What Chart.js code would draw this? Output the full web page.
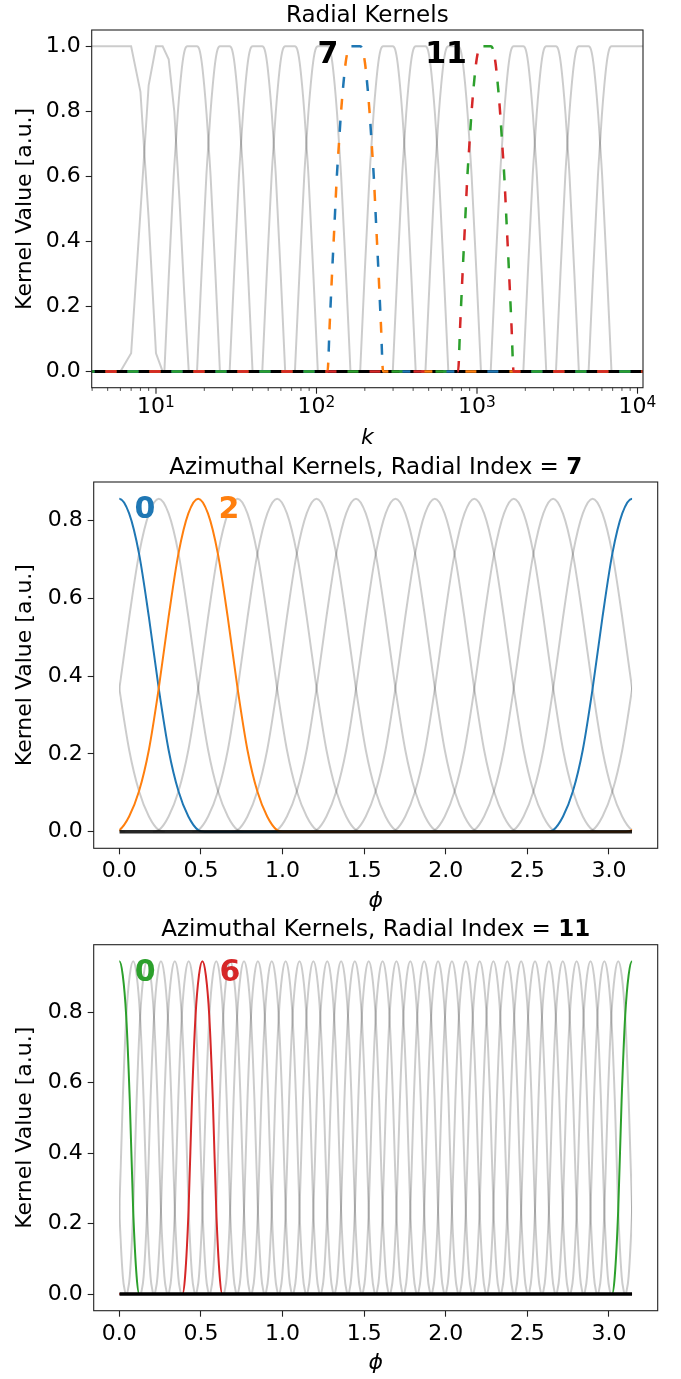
<!DOCTYPE html>
<html><head>
<meta charset="utf-8">
<title>Kernels</title>
<script src="https://cdn.jsdelivr.net/npm/chart.js@4"></script>
<style>
body { margin: 0; background: #fff; }
.panel { position: absolute; left: 0; width: 681px; }
</style>
</head>
<body>
<div class="panel" style="top:0px;height:460px"><canvas id="radial"></canvas></div>
<div class="panel" style="top:440px;height:480px"><canvas id="az7"></canvas></div>
<div class="panel" style="top:900px;height:479px"><canvas id="az11"></canvas></div>
<script>
// ---- radial kernels (k on a log axis) ----
// centres of kernels 0..15, in k
const radialCenters = [6.59, 10.52, 16.80, 26.83, 42.84, 68.43, 109.3, 174.5, 278.7, 445.0, 710.8, 1135, 1813, 2895, 4623, 7384];
// one side of an interior kernel: offset from centre in decades -> value
const radialOffsets = [0, 0.030, 0.045, 0.060, 0.075, 0.090, 0.102, 0.115, 0.130, 0.145, 0.160, 0.173];
const radialProfile = [1.00, 1.00, 0.99, 0.95, 0.88, 0.79, 0.70, 0.60, 0.45, 0.30, 0.14, 0.00];
// the two lowest kernels are only sampled at integer k
const kLow = [3, 4, 5, 6, 7, 8, 9, 10, 11, 12, 13, 14, 15, 16, 17];
const radial0Low = [1, 1, 1, 1, 1, 0.86, 0.47, 0.056, 0, 0, 0, 0, 0, 0, 0];
const radial1Low = [0, 0, 0, 0, 0.056, 0.49, 0.88, 1, 1, 0.96, 0.80, 0.53, 0.24, 0, 0];
const radialHighlight = [7, 11];

// ---- azimuthal kernels, radial index 7 ----
const az7Centers = [0, 0.242, 0.483, 0.725, 0.967, 1.208, 1.450, 1.692, 1.933, 2.175, 2.417, 2.658, 2.900];
const az7Offsets = [0, 0.060, 0.121, 0.181, 0.242, 0.302, 0.363, 0.423, 0.483, 0.520];
const az7Profile = [0.856, 0.818, 0.714, 0.552, 0.367, 0.210, 0.103, 0.039, 0.004, 0.000];
const az7Highlight = [0, 2];

// ---- azimuthal kernels, radial index 11 ----
const az11Centers = [0, 0.085, 0.170, 0.255, 0.340, 0.425, 0.509, 0.594, 0.679, 0.764, 0.849, 0.934,
  1.019, 1.104, 1.189, 1.274, 1.359, 1.443, 1.528, 1.613, 1.698, 1.783, 1.868, 1.953, 2.038, 2.123,
  2.208, 2.292, 2.377, 2.462, 2.547, 2.632, 2.717, 2.802, 2.887, 2.972, 3.057];
const az11Offsets = [0, 0.021, 0.042, 0.064, 0.085, 0.106, 0.122];
const az11Profile = [0.944, 0.905, 0.790, 0.550, 0.236, 0.050, 0.000];
const az11Highlight = [0, 6];

const PI = Math.PI;
const FONT = "'DejaVu Sans', sans-serif";
const GRAY = 'rgba(0,0,0,0.2)';
const BLUE = '#1f77b4', ORANGE = '#ff7f0e', GREEN = '#2ca02c', RED = '#d62728';

function line(points, color, width, extra) {
  return Object.assign({
    data: points, showLine: true, borderColor: color, borderWidth: width,
    pointRadius: 0, fill: false, clip: 0, tension: 0, spanGaps: false
  }, extra || {});
}

// bump around centre c; xf maps (centre, offset) to an x value
function bump(c, offs, vals, xf) {
  const pts = [];
  for (let i = offs.length - 1; i > 0; i--) pts.push({x: xf(c, -offs[i]), y: vals[i]});
  for (let i = 0; i < offs.length; i++) pts.push({x: xf(c, offs[i]), y: vals[i]});
  return pts;
}
const logX = (c, o) => Math.pow(10, Math.log10(c) + o);
const linX = (c, o) => c + o;

// ---------- radial datasets ----------
function radialDatasets() {
  const sets = [];
  const smooth = {cubicInterpolationMode: 'monotone', order: 3};
  radialCenters.forEach((c, n) => {
    if (radialHighlight.includes(n)) return;
    let pts;
    if (n === 0) pts = kLow.map((k, i) => ({x: k, y: radial0Low[i]}));
    else if (n === 1) pts = kLow.map((k, i) => ({x: k, y: radial1Low[i]}));
    else if (n === radialCenters.length - 1) {
      pts = bump(c, radialOffsets, radialProfile, logX).filter(p => p.x <= c);
      pts.push({x: 20000, y: 1});
    } else pts = bump(c, radialOffsets, radialProfile, logX);
    sets.push(line(pts, GRAY, 2, n < 2 ? {order: 3} : smooth));
  });
  sets.push(line([{x: 1, y: 0}, {x: 20000, y: 0}], '#000', 3, {order: 2}));
  const dashColors = [[BLUE, ORANGE], [GREEN, RED]];
  radialHighlight.forEach((n, h) => {
    const pts = [{x: 1, y: 0}].concat(bump(radialCenters[n], radialOffsets, radialProfile, logX), [{x: 20000, y: 0}]);
    dashColors[h].forEach((col, i) => {
      sets.push(line(pts, col, 2.5, {
        cubicInterpolationMode: 'monotone', borderDash: [11, 33], borderDashOffset: -22 * i,
        order: 1.4 - h * 0.2 - i * 0.1
      }));
    });
  });
  return sets;
}

// ---------- azimuthal datasets (period pi) ----------
function azDatasets(centers, offs, vals, highlight, colors, baseAlpha) {
  const sets = [];
  const reach = offs[offs.length - 1];
  centers.forEach((c, j) => {
    const copies = [c - PI, c, c + PI].filter(cc => cc + reach > -0.2 && cc - reach < PI + 0.2);
    const hi = highlight.indexOf(j);
    let pts = [];
    if (hi < 0) {
      copies.forEach((cc, i) => {
        if (i > 0) pts.push({x: cc - reach - 0.001, y: null});
        pts = pts.concat(bump(cc, offs, vals, linX));
      });
      sets.push(line(pts, GRAY, 2, {cubicInterpolationMode: 'monotone', order: 3}));
    } else {
      pts.push({x: -0.3, y: 0});
      copies.forEach(cc => { pts = pts.concat(bump(cc, offs, vals, linX)); });
      pts.push({x: PI + 0.3, y: 0});
      pts.sort((a, b) => a.x - b.x);
      sets.push(line(pts, colors[hi], 2, {cubicInterpolationMode: 'monotone', order: 2.2 - hi * 0.1}));
    }
  });
  sets.push(line([{x: 0, y: 0}, {x: PI, y: 0}], 'rgba(0,0,0,' + baseAlpha + ')', 3.5, {order: 1}));
  return sets;
}

// frame, titles, axis labels, annotations and log ticks
const kernelDecor = {
  id: 'kernelDecor',
  beforeDatasetsDraw(chart, args, o) {
    // the angle curves only cover 0..pi
    if (!o.clipX) return;
    const {ctx, chartArea: a} = chart;
    const xs = chart.scales.x;
    const x0 = xs.getPixelForValue(o.clipX[0]), x1 = xs.getPixelForValue(o.clipX[1]);
    ctx.save();
    ctx.beginPath();
    ctx.rect(x0, a.top, x1 - x0, a.bottom - a.top);
    ctx.clip();
  },
  afterDatasetsDraw(chart, args, o) {
    if (o.clipX) chart.ctx.restore();
  },
  afterDraw(chart, args, o) {
    const {ctx, chartArea: a} = chart;
    const xs = chart.scales.x, ys = chart.scales.y;
    ctx.save();
    ctx.fillStyle = '#000';
    // title, normal and bold pieces centred over the axes
    const parts = o.title;
    const fonts = parts.map(p => (p.bold ? 'bold ' : '') + '23px ' + FONT);
    const widths = parts.map((p, i) => { ctx.font = fonts[i]; return ctx.measureText(p.text).width; });
    let x = (a.left + a.right) / 2 - widths.reduce((s, w) => s + w, 0) / 2;
    ctx.textAlign = 'left';
    ctx.textBaseline = 'alphabetic';
    parts.forEach((p, i) => { ctx.font = fonts[i]; ctx.fillText(p.text, x, o.titleY); x += widths[i]; });
    // x axis label
    ctx.font = 'italic 22px ' + FONT;
    ctx.textAlign = 'center';
    ctx.fillText(o.xLabel, (a.left + a.right) / 2, o.xLabelY);
    // y axis label
    ctx.save();
    ctx.translate(25, (a.top + a.bottom) / 2);
    ctx.rotate(-PI / 2);
    ctx.font = '22px ' + FONT;
    ctx.textBaseline = 'middle';
    ctx.fillText('Kernel Value [a.u.]', 0, 0);
    ctx.restore();
    // log axis ticks with 10^n labels
    if (o.logTicks) {
      ctx.strokeStyle = '#222';
      for (let e = 0; e <= 4; e++) {
        for (let m = 1; m <= 9; m++) {
          const v = m * Math.pow(10, e);
          if (v < xs.min || v > xs.max) continue;
          const px = xs.getPixelForValue(v);
          ctx.lineWidth = m === 1 ? 1.1 : 0.8;
          ctx.beginPath();
          ctx.moveTo(px, a.bottom);
          ctx.lineTo(px, a.bottom + (m === 1 ? 6 : 3.2));
          ctx.stroke();
          if (m === 1) {
            ctx.textAlign = 'left';
            ctx.font = '22px ' + FONT;
            const w1 = ctx.measureText('10').width;
            ctx.font = '15.4px ' + FONT;
            const w2 = ctx.measureText(String(e)).width;
            const x0 = px - (w1 + w2) / 2;
            ctx.font = '22px ' + FONT;
            ctx.fillText('10', x0, a.bottom + 25.6);
            ctx.font = '15.4px ' + FONT;
            ctx.fillText(String(e), x0 + w1, a.bottom + 18.8);
          }
        }
      }
    }
    // frame
    ctx.strokeStyle = '#222';
    ctx.lineWidth = 1.1;
    ctx.strokeRect(a.left, a.top, a.right - a.left, a.bottom - a.top);
    // kernel index annotations
    ctx.textAlign = 'center';
    ctx.textBaseline = 'alphabetic';
    ctx.font = 'bold 30px ' + FONT;
    o.marks.forEach(m => {
      ctx.fillStyle = m.color;
      ctx.fillText(m.text, xs.getPixelForValue(m.x), ys.getPixelForValue(m.y) + 10.9);
    });
    ctx.restore();
  }
};

function linearAxis(min, max, step, fixed) {
  return {
    type: 'linear', min: min, max: max,
    ticks: {
      stepSize: step, includeBounds: false, color: '#000', padding: fixed.pad,
      font: {family: FONT, size: 22}, callback: v => v.toFixed(1), maxRotation: 0, autoSkip: false
    },
    grid: {display: true, drawOnChartArea: false, drawTicks: true, tickLength: 6, tickColor: '#222', tickWidth: 1.1},
    border: {display: false},
    afterFit: s => {
      if (fixed.width) s.width = fixed.width;
      if (fixed.height) s.height = fixed.height;
      s.paddingLeft = s.paddingRight = s.paddingTop = s.paddingBottom = 0;
    }
  };
}

function makeChart(id, geom, datasets, xAxis, yAxis, decor) {
  return new Chart(document.getElementById(id), {
    type: 'scatter',
    data: {datasets: datasets},
    options: {
      responsive: true, maintainAspectRatio: false, animation: false, devicePixelRatio: 1,
      events: [],
      layout: {padding: {left: 0, top: geom.top, right: 681 - geom.right, bottom: 0}},
      scales: {x: xAxis, y: yAxis},
      plugins: {legend: {display: false}, tooltip: {enabled: false}, kernelDecor: decor}
    },
    plugins: [kernelDecor]
  });
}

// panel 1: radial kernels
makeChart('radial', {top: 30, right: 643},
  radialDatasets(),
  {
    type: 'logarithmic', min: 3.976, max: 10820,
    ticks: {display: false}, grid: {display: false}, border: {display: false},
    afterFit: s => { s.height = 460 - 387.7; s.paddingLeft = s.paddingRight = 0; }
  },
  linearAxis(-0.05, 1.05, 0.2, {width: 91.7, pad: 5}),
  {
    title: [{text: 'Radial Kernels'}], titleY: 21.7, xLabel: 'k', xLabelY: 444, logTicks: true,
    marks: [{text: '7', x: 117.9, y: 0.981, color: '#000'}, {text: '11', x: 641, y: 0.981, color: '#000'}]
  });

// panel 2: azimuthal kernels at radial index 7
makeChart('az7', {top: 42, right: 657.7},
  azDatasets(az7Centers, az7Offsets, az7Profile, az7Highlight, [BLUE, ORANGE], 0.85),
  linearAxis(-0.157, 3.2987, 0.5, {height: 480 - 408.3, pad: 4}),
  linearAxis(-0.0428, 0.8988, 0.2, {width: 93.7, pad: 5}),
  {
    title: [{text: 'Azimuthal Kernels, Radial Index = '}, {text: '7', bold: true}], titleY: 33.7,
    xLabel: '\u03d5', xLabelY: 467, logTicks: false, clipX: [0, PI],
    marks: [{text: '0', x: 0.157, y: 0.834, color: BLUE}, {text: '2', x: 0.671, y: 0.834, color: ORANGE}]
  });

// panel 3: azimuthal kernels at radial index 11
makeChart('az11', {top: 44.7, right: 657.7},
  azDatasets(az11Centers, az11Offsets, az11Profile, az11Highlight, [GREEN, RED], 1),
  linearAxis(-0.157, 3.2987, 0.5, {height: 479 - 410.7, pad: 4}),
  linearAxis(-0.0472, 0.9912, 0.2, {width: 93.7, pad: 5}),
  {
    title: [{text: 'Azimuthal Kernels, Radial Index = '}, {text: '11', bold: true}], titleY: 36.4,
    xLabel: '\u03d5', xLabelY: 469, logTicks: false, clipX: [0, PI],
    marks: [{text: '0', x: 0.158, y: 0.918, color: GREEN}, {text: '6', x: 0.677, y: 0.918, color: RED}]
  });
</script>
</body></html>
